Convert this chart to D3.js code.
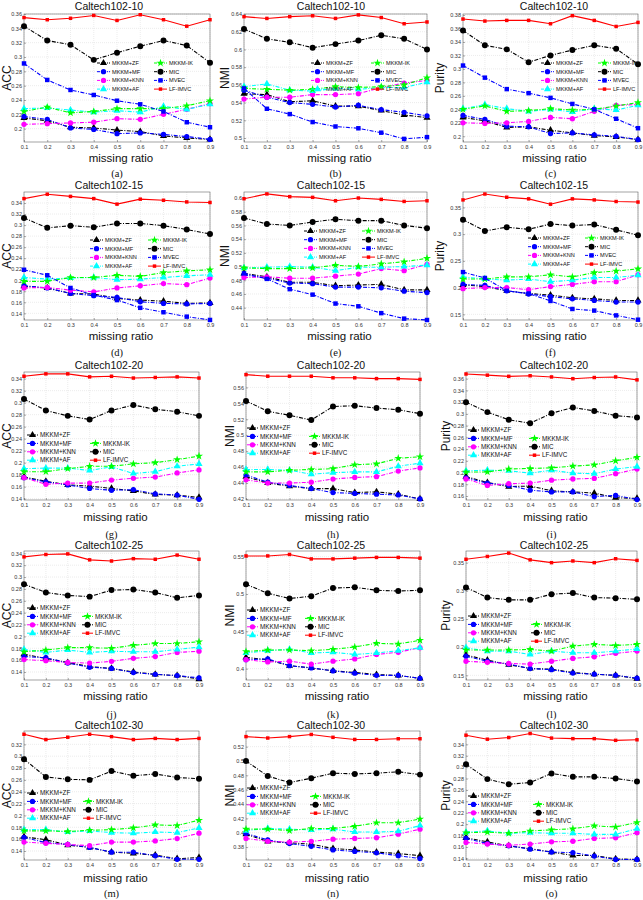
<!DOCTYPE html>
<html>
<head>
<meta charset="utf-8">
<script src="https://cdn.jsdelivr.net/npm/d3@7"></script>
<style>
  body { margin: 0; background: #fff; }
  svg { display: block; }
</style>
</head>
<body>
<div id="chart"></div>
<script>
// ---- data (rows follow `methods` order; null = not plotted) ----
const ratios = [0.1, 0.2, 0.3, 0.4, 0.5, 0.6, 0.7, 0.8, 0.9];
const methods = ["MKKM+ZF", "MKKM+MF", "MKKM+KNN", "MKKM+AF", "MKKM-IK", "MIC", "MVEC", "LF-IMVC"];
const datasets = ["Caltech102-10", "Caltech102-15", "Caltech102-20", "Caltech102-25", "Caltech102-30"];
const metrics = ["ACC", "NMI", "Purity"];
const subLabels = ["(a)", "(b)", "(c)", "(d)", "(e)", "(f)", "(g)", "(h)", "(i)", "(j)", "(k)", "(l)", "(m)", "(n)", "(o)"];

const acc10 = [
  [0.215, 0.211, 0.202, 0.201, 0.198, 0.196, 0.190, 0.187, 0.185],
  [0.217, 0.213, 0.201, 0.199, 0.193, 0.194, 0.192, 0.189, 0.185],
  [0.206, 0.207, 0.208, 0.209, 0.214, 0.213, 0.220, 0.227, 0.235],
  [0.228, 0.229, 0.226, 0.223, 0.225, 0.223, 0.231, 0.227, 0.234],
  [0.224, 0.230, 0.222, 0.224, 0.228, 0.228, 0.228, 0.232, 0.239],
  [0.343, 0.323, 0.317, 0.296, 0.306, 0.315, 0.323, 0.316, 0.292],
  [0.291, 0.268, 0.254, 0.247, 0.239, 0.234, 0.224, 0.209, 0.202],
  [0.355, 0.352, 0.354, 0.358, 0.351, 0.359, 0.352, 0.343, 0.352]
];
const nmi10 = [
  [0.550, 0.549, 0.541, 0.542, 0.536, 0.536, 0.531, 0.526, 0.523],
  [0.554, 0.546, 0.540, 0.538, 0.535, 0.537, 0.532, 0.529, 0.525],
  [0.544, 0.546, 0.546, 0.549, 0.549, 0.550, 0.557, 0.562, 0.565],
  [0.558, 0.561, 0.554, 0.553, 0.556, 0.555, 0.557, 0.557, 0.563],
  [0.556, 0.555, 0.554, 0.555, 0.558, 0.557, 0.558, 0.560, 0.568],
  [0.623, 0.612, 0.608, 0.602, 0.606, 0.610, 0.616, 0.612, 0.600],
  [0.556, 0.533, 0.527, 0.518, 0.513, 0.511, 0.506, 0.499, 0.501],
  [0.637, 0.635, 0.637, 0.638, 0.635, 0.639, 0.636, 0.629, 0.631]
];
const pur10 = [
  [0.228, 0.223, 0.213, 0.214, 0.209, 0.205, 0.201, 0.199, 0.195],
  [0.231, 0.225, 0.215, 0.214, 0.204, 0.205, 0.202, 0.200, 0.195],
  [0.220, 0.219, 0.220, 0.222, 0.228, 0.226, 0.237, 0.246, 0.247],
  [0.241, 0.247, 0.241, 0.237, 0.240, 0.236, 0.241, 0.239, 0.246],
  [0.240, 0.245, 0.237, 0.238, 0.241, 0.239, 0.240, 0.245, 0.250],
  [0.357, 0.335, 0.329, 0.310, 0.320, 0.328, 0.335, 0.330, 0.307],
  [0.305, 0.287, 0.270, 0.264, 0.257, 0.248, 0.240, 0.226, 0.212],
  [0.374, 0.371, 0.372, 0.372, 0.367, 0.379, 0.372, 0.363, 0.369]
];
const acc15 = [
  [0.189, 0.186, 0.176, 0.175, 0.167, 0.164, 0.162, 0.158, 0.159],
  [0.190, 0.186, 0.176, 0.172, 0.169, 0.161, 0.158, 0.157, 0.158],
  [0.186, 0.187, 0.182, 0.179, 0.186, 0.190, 0.194, 0.192, 0.204],
  [0.205, 0.202, 0.204, 0.205, 0.201, 0.202, 0.205, 0.208, 0.210],
  [0.198, 0.198, 0.205, 0.205, 0.209, 0.207, 0.214, 0.217, 0.219],
  [0.313, 0.295, 0.299, 0.296, 0.303, 0.303, 0.299, 0.292, 0.284],
  [0.219, 0.209, 0.186, 0.173, 0.164, 0.150, 0.142, 0.134, 0.128],
  [0.348, 0.356, 0.352, 0.348, 0.338, 0.347, 0.345, 0.342, 0.341]
];
const nmi15 = [
  [0.490, 0.485, 0.477, 0.477, 0.472, 0.473, 0.474, 0.466, 0.466],
  [0.488, 0.483, 0.476, 0.475, 0.470, 0.470, 0.469, 0.464, 0.462],
  [0.484, 0.485, 0.483, 0.483, 0.486, 0.489, 0.497, 0.494, 0.503],
  [0.498, 0.499, 0.500, 0.499, 0.494, 0.499, 0.499, 0.500, 0.502],
  [0.498, 0.497, 0.497, 0.498, 0.502, 0.500, 0.504, 0.507, 0.512],
  [0.571, 0.562, 0.560, 0.565, 0.569, 0.567, 0.567, 0.560, 0.556],
  [0.490, 0.482, 0.467, 0.459, 0.446, 0.442, 0.432, 0.424, 0.422],
  [0.599, 0.606, 0.602, 0.601, 0.596, 0.600, 0.598, 0.595, 0.596]
];
const pur15 = [
  [0.205, 0.202, 0.194, 0.189, 0.186, 0.181, 0.179, 0.176, 0.176],
  [0.206, 0.204, 0.194, 0.188, 0.183, 0.179, 0.176, 0.173, 0.173],
  [0.198, 0.200, 0.200, 0.196, 0.202, 0.206, 0.211, 0.211, 0.224],
  [0.220, 0.216, 0.214, 0.216, 0.211, 0.214, 0.219, 0.219, 0.223],
  [0.216, 0.216, 0.220, 0.220, 0.224, 0.220, 0.228, 0.231, 0.235],
  [0.327, 0.306, 0.313, 0.309, 0.319, 0.316, 0.318, 0.308, 0.298],
  [0.229, 0.218, 0.194, 0.189, 0.175, 0.160, 0.157, 0.148, 0.140],
  [0.364, 0.375, 0.369, 0.366, 0.356, 0.366, 0.364, 0.361, 0.360]
];
const acc20 = [
  [0.176, 0.169, 0.163, 0.161, 0.157, 0.153, 0.147, 0.146, 0.142],
  [0.175, 0.168, 0.163, 0.157, 0.154, 0.155, 0.148, 0.146, 0.139],
  [0.175, 0.164, 0.166, 0.166, 0.171, 0.174, 0.176, 0.183, 0.188],
  [0.190, 0.191, 0.191, 0.187, 0.193, 0.182, 0.185, 0.194, 0.198],
  [0.185, 0.185, 0.190, 0.194, 0.194, 0.198, 0.200, 0.205, 0.211],
  [0.306, 0.287, 0.278, 0.272, 0.287, 0.296, 0.289, 0.285, 0.278],
  null,
  [0.344, 0.348, 0.348, 0.343, 0.344, 0.341, 0.342, 0.343, 0.341]
];
const nmi20 = [
  [0.448, 0.440, 0.436, 0.433, 0.433, 0.428, 0.429, 0.426, 0.420],
  [0.450, 0.441, 0.437, 0.433, 0.428, 0.427, 0.426, 0.425, 0.420],
  [0.444, 0.440, 0.440, 0.441, 0.445, 0.447, 0.448, 0.455, 0.459],
  [0.457, 0.457, 0.456, 0.451, 0.453, 0.454, 0.454, 0.461, 0.465],
  [0.454, 0.454, 0.456, 0.457, 0.458, 0.463, 0.464, 0.471, 0.473],
  [0.543, 0.530, 0.525, 0.519, 0.536, 0.537, 0.534, 0.532, 0.527],
  null,
  [0.576, 0.574, 0.574, 0.574, 0.572, 0.572, 0.571, 0.571, 0.570]
];
const pur20 = [
  [0.193, 0.183, 0.176, 0.177, 0.169, 0.167, 0.165, 0.157, 0.156],
  [0.191, 0.182, 0.178, 0.170, 0.167, 0.167, 0.159, 0.161, 0.154],
  [0.189, 0.178, 0.181, 0.182, 0.187, 0.189, 0.190, 0.198, 0.206],
  [0.203, 0.204, 0.203, 0.199, 0.204, 0.199, 0.198, 0.206, 0.210],
  [0.201, 0.201, 0.206, 0.207, 0.208, 0.211, 0.213, 0.220, 0.226],
  [0.320, 0.303, 0.290, 0.284, 0.301, 0.311, 0.305, 0.297, 0.294],
  null,
  [0.368, 0.366, 0.364, 0.365, 0.363, 0.360, 0.362, 0.363, 0.358]
];
const acc25 = [
  [0.170, 0.163, 0.156, 0.149, 0.146, 0.140, 0.136, 0.134, 0.128],
  [0.166, 0.164, 0.155, 0.148, 0.146, 0.139, 0.136, 0.134, 0.130],
  [0.161, 0.159, 0.156, 0.155, 0.158, 0.163, 0.166, 0.173, 0.175],
  [0.178, 0.173, 0.177, 0.173, 0.175, 0.174, 0.174, 0.178, 0.182],
  [0.174, 0.177, 0.181, 0.181, 0.180, 0.185, 0.188, 0.188, 0.191],
  [0.288, 0.274, 0.269, 0.267, 0.278, 0.279, 0.274, 0.265, 0.269],
  null,
  [0.334, 0.338, 0.339, 0.329, 0.327, 0.331, 0.330, 0.337, 0.330]
];
const nmi25 = [
  [0.415, 0.412, 0.404, 0.401, 0.397, 0.395, 0.392, 0.391, 0.387],
  [0.412, 0.413, 0.404, 0.401, 0.397, 0.394, 0.391, 0.391, 0.387],
  [0.412, 0.409, 0.410, 0.406, 0.410, 0.413, 0.419, 0.422, 0.428],
  [0.421, 0.424, 0.426, 0.421, 0.422, 0.419, 0.421, 0.424, 0.428],
  [0.423, 0.425, 0.425, 0.424, 0.426, 0.429, 0.434, 0.433, 0.438],
  [0.513, 0.501, 0.494, 0.497, 0.508, 0.509, 0.505, 0.504, 0.505],
  null,
  [0.551, 0.551, 0.553, 0.547, 0.547, 0.548, 0.549, 0.549, 0.548]
];
const pur25 = [
  [0.186, 0.177, 0.169, 0.162, 0.161, 0.155, 0.152, 0.150, 0.144],
  [0.184, 0.175, 0.170, 0.162, 0.160, 0.154, 0.152, 0.150, 0.145],
  [0.175, 0.173, 0.171, 0.170, 0.175, 0.180, 0.183, 0.189, 0.193],
  [0.199, 0.193, 0.193, 0.187, 0.193, 0.190, 0.190, 0.193, 0.197],
  [0.195, 0.195, 0.195, 0.196, 0.193, 0.202, 0.205, 0.203, 0.205],
  [0.306, 0.288, 0.284, 0.284, 0.294, 0.296, 0.288, 0.287, 0.285],
  null,
  [0.356, 0.361, 0.367, 0.355, 0.350, 0.353, 0.350, 0.357, 0.354]
];
const acc30 = [
  [0.164, 0.159, 0.150, 0.146, 0.138, 0.136, 0.133, 0.127, 0.129],
  [0.163, 0.154, 0.151, 0.146, 0.138, 0.138, 0.132, 0.126, 0.126],
  [0.155, 0.153, 0.151, 0.149, 0.155, 0.155, 0.157, 0.161, 0.170],
  [0.176, 0.176, 0.172, 0.174, 0.171, 0.170, 0.172, 0.171, 0.179],
  [0.174, 0.174, 0.173, 0.175, 0.176, 0.179, 0.184, 0.183, 0.192],
  [0.295, 0.265, 0.261, 0.260, 0.275, 0.267, 0.270, 0.264, 0.262],
  null,
  [0.337, 0.328, 0.332, 0.337, 0.333, 0.328, 0.330, 0.328, 0.330]
];
const nmi30 = [
  [0.398, 0.388, 0.386, 0.384, 0.378, 0.376, 0.373, 0.371, 0.368],
  [0.399, 0.390, 0.385, 0.381, 0.376, 0.374, 0.372, 0.368, 0.364],
  [0.392, 0.388, 0.387, 0.388, 0.391, 0.392, 0.393, 0.398, 0.405],
  [0.403, 0.406, 0.405, 0.404, 0.405, 0.401, 0.401, 0.402, 0.410],
  [0.405, 0.405, 0.403, 0.406, 0.406, 0.409, 0.414, 0.414, 0.419],
  [0.500, 0.479, 0.470, 0.476, 0.483, 0.482, 0.483, 0.485, 0.481],
  null,
  [0.534, 0.532, 0.534, 0.537, 0.533, 0.530, 0.530, 0.531, 0.531]
];
const pur30 = [
  [0.176, 0.169, 0.162, 0.157, 0.151, 0.145, 0.145, 0.139, 0.138],
  [0.175, 0.166, 0.162, 0.156, 0.151, 0.150, 0.144, 0.138, 0.138],
  [0.168, 0.165, 0.163, 0.165, 0.169, 0.170, 0.175, 0.176, 0.185],
  [0.186, 0.188, 0.184, 0.185, 0.184, 0.184, 0.182, 0.182, 0.192],
  [0.185, 0.186, 0.184, 0.188, 0.190, 0.192, 0.197, 0.195, 0.203],
  [0.305, 0.279, 0.270, 0.273, 0.289, 0.283, 0.283, 0.280, 0.275],
  null,
  [0.356, 0.349, 0.352, 0.359, 0.351, 0.350, 0.350, 0.347, 0.348]
];

// y axis range and tick spec [first, step, count] for each panel, a..o
const yDomains = [
  [0.1814, 0.360], [0.4955, 0.640], [0.1915, 0.3815],
  [0.1279, 0.360], [0.4220, 0.6088], [0.1394, 0.3788],
  [0.1378, 0.3511], [0.4187, 0.5793], [0.1532, 0.3714],
  [0.1265, 0.3439], [0.3848, 0.5576], [0.1417, 0.3707],
  [0.1248, 0.3425], [0.3620, 0.5418], [0.1371, 0.3634]
];
const yTickSpecs = [
  [0.20, 0.02, 9], [0.50, 0.02, 8], [0.20, 0.02, 10],
  [0.14, 0.02, 11], [0.44, 0.02, 9], [0.15, 0.05, 5],
  [0.14, 0.02, 11], [0.42, 0.02, 8], [0.16, 0.02, 11],
  [0.14, 0.02, 11], [0.40, 0.05, 4], [0.15, 0.05, 5],
  [0.14, 0.02, 10], [0.38, 0.02, 8], [0.14, 0.02, 11]
];
const panelData = [acc10, nmi10, pur10, acc15, nmi15, pur15, acc20, nmi20, pur20,
                   acc25, nmi25, pur25, acc30, nmi30, pur30];

// ---- layout ----
const W = 643, H = 900;
const rowBoxes = [   // plot top/bottom, title/xlabel/sublabel baselines
  { top: 14,  bottom: 142, title: 10,  xlab: 161.5, sub: 177 },
  { top: 192, bottom: 320, title: 189, xlab: 339.5, sub: 356 },
  { top: 372, bottom: 500, title: 369, xlab: 521, sub: 538 },
  { top: 551, bottom: 680, title: 549, xlab: 700, sub: 718 },
  { top: 731, bottom: 860, title: 729, xlab: 882, sub: 897 }
];
const colsWide = [ { l: 24, r: 210, ylab: 7 }, { l: 244, r: 427, ylab: 225 }, { l: 463, r: 638, ylab: 440 } ];
const colsNarrow = [ { l: 24, r: 199, ylab: 7 }, { l: 246, r: 420, ylab: 230 }, { l: 466, r: 637, ylab: 446 } ];
const titleX = [109, 331, 554];
// legend anchor per panel: left-column sample x, first row y, right-column sample x
const legendPos = [
  [97, 63, 154], [311, 63, 371], [541, 63, 598],
  [90, 240, 148], [304, 231, 362], [528, 238, 585],
  [27, 435, 90], [247, 428, 309], [468, 430, 529],
  [27, 608, 82], [247, 610, 305], [468, 616, 531],
  [27, 793, 83], [247, 788, 310], [468, 796, 533]
];

const styles = [
  { color: "#000000", marker: "triangle" },
  { color: "#0000ff", marker: "circle" },
  { color: "#ff00ff", marker: "circle" },
  { color: "#00ffff", marker: "triangle" },
  { color: "#00ff00", marker: "star" },
  { color: "#000000", marker: "bigcircle" },
  { color: "#0000ff", marker: "square" },
  { color: "#ff0000", marker: "smallsquare" }
];
const dashDot = "4,1.5,1,1.5";

const svg = d3.select("#chart").append("svg")
  .attr("width", W).attr("height", H)
  .style("font-family", "Arial, 'Liberation Sans', Helvetica, sans-serif");

function markerPath(kind) {
  if (kind === "triangle") return d3.symbol(d3.symbolTriangle, 22)();
  if (kind === "star") return d3.symbol(d3.symbolStar, 20)();
  if (kind === "square") return d3.symbol(d3.symbolSquare, 20)();
  if (kind === "smallsquare") return d3.symbol(d3.symbolSquare, 12)();
  if (kind === "bigcircle") return d3.symbol(d3.symbolCircle, 28)();
  return d3.symbol(d3.symbolCircle, 22)();
}

panelData.forEach((series, p) => {
  const row = Math.floor(p / 3), col = p % 3;
  const rb = rowBoxes[row];
  const cb = (row < 2 ? colsWide : colsNarrow)[col];
  const x = d3.scaleLinear().domain([0.1, 0.9]).range([cb.l, cb.r]);
  const y = d3.scaleLinear().domain(yDomains[p]).range([rb.bottom, rb.top]);
  const ts = yTickSpecs[p];
  const yTicks = d3.range(ts[2]).map(i => +(ts[0] + i * ts[1]).toFixed(2));
  const g = svg.append("g");

  // grid
  g.append("g").selectAll("line").data(ratios).join("line")
    .attr("x1", d => x(d)).attr("x2", d => x(d))
    .attr("y1", rb.top).attr("y2", rb.bottom)
    .attr("stroke", "#d9d9d9").attr("stroke-width", 0.5).attr("stroke-dasharray", "1,1");
  g.append("g").selectAll("line").data(yTicks).join("line")
    .attr("x1", cb.l).attr("x2", cb.r)
    .attr("y1", d => y(d)).attr("y2", d => y(d))
    .attr("stroke", "#d9d9d9").attr("stroke-width", 0.5).attr("stroke-dasharray", "1,1");

  // axes
  const xAxis = g.append("g").attr("transform", `translate(0,${rb.bottom})`)
    .call(d3.axisBottom(x).tickValues(ratios).tickSize(-2).tickPadding(3).tickFormat(d3.format("~g")));
  const yAxis = g.append("g").attr("transform", `translate(${cb.l},0)`)
    .call(d3.axisLeft(y).tickValues(yTicks).tickSize(-2).tickPadding(2).tickFormat(d3.format("~g")));
  [xAxis, yAxis].forEach(a => {
    a.select(".domain").remove();
    a.selectAll(".tick line").attr("stroke", "#555").attr("stroke-width", 0.5);
    a.selectAll(".tick text").attr("font-size", 5.5).attr("fill", "#333")
      .attr("font-family", "Arial, 'Liberation Sans', sans-serif");
  });
  g.append("rect")
    .attr("x", cb.l).attr("y", rb.top)
    .attr("width", cb.r - cb.l).attr("height", rb.bottom - rb.top)
    .attr("fill", "none").attr("stroke", "#666").attr("stroke-width", 0.6);

  // lines & markers
  const line = d3.line().x((d, i) => x(ratios[i])).y(d => y(d));
  series.forEach((vals, m) => {
    if (!vals) return;
    const st = styles[m];
    g.append("path").datum(vals)
      .attr("d", line).attr("fill", "none")
      .attr("stroke", st.color).attr("stroke-width", 1.1)
      .attr("stroke-dasharray", m === 7 ? null : dashDot);
    g.append("g").selectAll("path").data(vals).join("path")
      .attr("d", markerPath(st.marker))
      .attr("transform", (d, i) => `translate(${x(ratios[i])},${y(d)})`)
      .attr("fill", st.color);
  });

  // legend
  const lp = legendPos[p];
  const wide = row < 2;
  const step = wide ? 8.7 : 8.4;
  const fs = wide ? 5.6 : 6.3;
  const sampleLen = wide ? 13 : 11;
  const entries = [];
  [0, 1, 2, 3].forEach((m, k) => entries.push({ m, x: lp[0], y: lp[1] + k * step }));
  const right = series.map((s, m) => m).filter(m => m >= 4 && series[m]);
  right.forEach((m, k) => entries.push({ m, x: lp[2], y: lp[1] + (wide ? k : k + 1) * step }));
  const lg = g.append("g").selectAll("g").data(entries).join("g")
    .attr("transform", d => `translate(${d.x},${d.y})`);
  lg.append("line").attr("x1", 0).attr("x2", sampleLen)
    .attr("stroke", d => styles[d.m].color).attr("stroke-width", 1)
    .attr("stroke-dasharray", d => d.m === 7 ? null : "3,1,1,1");
  lg.append("path").attr("d", d => markerPath(styles[d.m].marker))
    .attr("transform", `translate(${sampleLen / 2},0)`)
    .attr("fill", d => styles[d.m].color);
  lg.append("text").attr("x", sampleLen + 2).attr("y", fs * 0.36)
    .attr("font-size", fs).attr("fill", "#111")
    .text(d => methods[d.m]);

  // labels
  g.append("text").attr("x", titleX[col]).attr("y", rb.title)
    .attr("text-anchor", "middle").attr("font-size", 10.5).attr("fill", "#111")
    .text(datasets[row]);
  g.append("text").attr("x", (cb.l + cb.r) / 2 + 4).attr("y", rb.xlab)
    .attr("text-anchor", "middle").attr("font-size", 11.5).attr("fill", "#111")
    .text("missing ratio");
  g.append("text")
    .attr("transform", `translate(${cb.ylab + 4},${(rb.top + rb.bottom) / 2}) rotate(-90)`)
    .attr("text-anchor", "middle").attr("font-size", 12).attr("fill", "#111")
    .text(metrics[col]);
  g.append("text").attr("x", (cb.l + cb.r) / 2).attr("y", rb.sub)
    .attr("text-anchor", "middle").attr("font-size", 10.5).attr("fill", "#111")
    .attr("font-family", "'Liberation Serif', 'Times New Roman', serif")
    .text(subLabels[p]);
});
</script>
</body>
</html>
